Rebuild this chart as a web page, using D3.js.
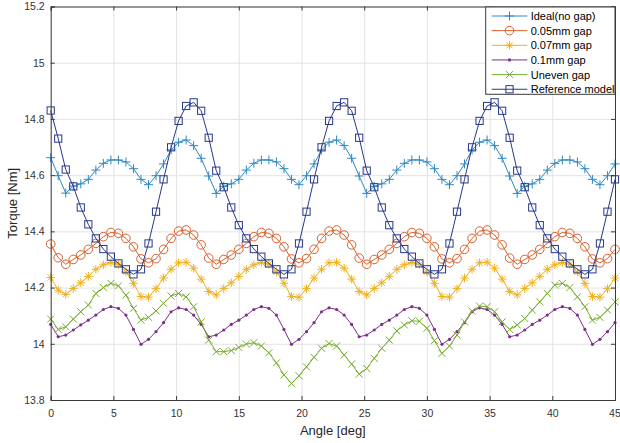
<!DOCTYPE html>
<html>
<head>
<meta charset="utf-8">
<script src="https://cdn.jsdelivr.net/npm/d3@7"></script>
<style>
  body { margin: 0; background: #fff; }
  text { font-family: "Liberation Sans", Arial, sans-serif; }
</style>
</head>
<body>
<div id="plot"></div>
<script>
// sample angles [deg]
const angles = [
  0, 0.6, 1.2, 1.8, 2.4, 3, 3.6, 4.2, 4.8, 5.4, 6, 6.6, 7.2, 7.8, 8.4, 9, 9.6, 10.2, 10.8, 11.4,
  12, 12.6, 13.2, 13.8, 14.4, 15, 15.6, 16.2, 16.8, 17.4, 18, 18.6, 19.2, 19.8, 20.4, 21, 21.6, 22.2, 22.8, 23.4,
  24, 24.6, 25.2, 25.8, 26.4, 27, 27.6, 28.2, 28.8, 29.4, 30, 30.6, 31.2, 31.8, 32.4, 33, 33.6, 34.2, 34.8, 35.4,
  36, 36.6, 37.2, 37.8, 38.4, 39, 39.6, 40.2, 40.8, 41.4, 42, 42.6, 43.2, 43.8, 44.4, 45
];

const ideal = [
  14.662, 14.598, 14.536, 14.561, 14.569, 14.585, 14.618, 14.642, 14.654, 14.654, 14.647, 14.623, 14.585, 14.566, 14.598, 14.640, 14.690, 14.717, 14.725, 14.705,
  14.660, 14.597, 14.535, 14.560, 14.569, 14.585, 14.618, 14.642, 14.654, 14.654, 14.647, 14.623, 14.585, 14.566, 14.598, 14.640, 14.690, 14.717, 14.725, 14.705,
  14.660, 14.597, 14.535, 14.560, 14.569, 14.585, 14.618, 14.642, 14.654, 14.654, 14.647, 14.623, 14.585, 14.566, 14.598, 14.640, 14.690, 14.717, 14.725, 14.705,
  14.660, 14.597, 14.535, 14.560, 14.569, 14.585, 14.618, 14.642, 14.654, 14.654, 14.647, 14.623, 14.585, 14.566, 14.598, 14.640
];

const gap005 = [
  14.355, 14.306, 14.283, 14.300, 14.316, 14.336, 14.357, 14.381, 14.396, 14.393, 14.375, 14.345, 14.302, 14.288, 14.303, 14.336, 14.375, 14.401, 14.405, 14.387,
  14.352, 14.305, 14.283, 14.300, 14.316, 14.336, 14.357, 14.381, 14.396, 14.393, 14.375, 14.345, 14.302, 14.288, 14.303, 14.336, 14.375, 14.401, 14.405, 14.387,
  14.352, 14.305, 14.283, 14.300, 14.316, 14.336, 14.357, 14.381, 14.396, 14.393, 14.375, 14.345, 14.302, 14.288, 14.303, 14.336, 14.375, 14.401, 14.405, 14.387,
  14.352, 14.305, 14.283, 14.300, 14.316, 14.336, 14.357, 14.381, 14.396, 14.393, 14.375, 14.345, 14.302, 14.288, 14.303, 14.336
];

const gap007 = [
  14.236, 14.191, 14.176, 14.197, 14.217, 14.240, 14.265, 14.281, 14.289, 14.283, 14.256, 14.215, 14.168, 14.166, 14.196, 14.234, 14.265, 14.288, 14.290, 14.269,
  14.230, 14.186, 14.174, 14.197, 14.217, 14.240, 14.265, 14.281, 14.289, 14.283, 14.256, 14.215, 14.168, 14.166, 14.196, 14.234, 14.265, 14.288, 14.290, 14.269,
  14.230, 14.186, 14.174, 14.197, 14.217, 14.240, 14.265, 14.281, 14.289, 14.283, 14.256, 14.215, 14.168, 14.166, 14.196, 14.234, 14.265, 14.288, 14.290, 14.269,
  14.230, 14.186, 14.174, 14.197, 14.217, 14.240, 14.265, 14.281, 14.289, 14.283, 14.256, 14.215, 14.168, 14.166, 14.196, 14.234
];

const gap01 = [
  14.069, 14.025, 14.031, 14.049, 14.067, 14.084, 14.102, 14.122, 14.132, 14.126, 14.102, 14.051, 13.998, 14.016, 14.043, 14.075, 14.114, 14.128, 14.122, 14.102,
  14.069, 14.025, 14.031, 14.049, 14.069, 14.084, 14.102, 14.122, 14.132, 14.126, 14.102, 14.051, 13.998, 14.016, 14.043, 14.075, 14.114, 14.128, 14.122, 14.102,
  14.069, 14.025, 14.031, 14.049, 14.069, 14.084, 14.102, 14.122, 14.132, 14.126, 14.102, 14.051, 13.998, 14.016, 14.043, 14.075, 14.114, 14.128, 14.122, 14.102,
  14.069, 14.025, 14.031, 14.049, 14.069, 14.084, 14.102, 14.122, 14.132, 14.126, 14.102, 14.051, 13.998, 14.016, 14.043, 14.075
];

const uneven = [
  14.088, 14.051, 14.060, 14.088, 14.114, 14.138, 14.179, 14.200, 14.215, 14.206,
  14.173, 14.126, 14.084, 14.094, 14.117, 14.144, 14.170, 14.179, 14.167, 14.132,
  14.078, 14.013, 13.972, 13.972, 13.976, 13.987, 13.999, 14.004, 13.992, 13.968,
  13.932, 13.889, 13.859, 13.886, 13.918, 13.952, 13.984, 14.001, 13.992, 13.960,
  13.928, 13.892, 13.912, 13.948, 13.984, 14.013, 14.046, 14.067, 14.082, 14.080,
  14.055, 14.011, 13.966, 13.992, 14.031, 14.078, 14.116, 14.134, 14.132, 14.114,
  14.078, 14.051, 14.067, 14.090, 14.120, 14.149, 14.179, 14.209, 14.215, 14.200,
  14.167, 14.132, 14.084, 14.094, 14.120, 14.149
];

const reference = [
  14.830, 14.730, 14.620, 14.560, 14.485, 14.425, 14.375, 14.337, 14.310, 14.286, 14.265, 14.247, 14.265, 14.357, 14.470, 14.585, 14.699, 14.793, 14.846, 14.859,
  14.829, 14.733, 14.616, 14.557, 14.485, 14.422, 14.375, 14.337, 14.310, 14.286, 14.265, 14.247, 14.265, 14.357, 14.470, 14.585, 14.699, 14.793, 14.846, 14.859,
  14.829, 14.733, 14.616, 14.557, 14.485, 14.422, 14.375, 14.337, 14.310, 14.286, 14.265, 14.247, 14.265, 14.357, 14.470, 14.585, 14.699, 14.793, 14.846, 14.859,
  14.829, 14.733, 14.616, 14.557, 14.485, 14.422, 14.375, 14.337, 14.310, 14.286, 14.265, 14.247, 14.265, 14.357, 14.470, 14.585
];

const seriesNames = ["Ideal(no gap)", "0.05mm gap", "0.07mm gap", "0.1mm gap", "Uneven gap", "Reference model"];
const xTicks = [0, 5, 10, 15, 20, 25, 30, 35, 40, 45];
const yTicks = [13.8, 14, 14.2, 14.4, 14.6, 14.8, 15, 15.2];
const yTickLabels = ["13.8", "14", "14.2", "14.4", "14.6", "14.8", "15", "15.2"];

const margin = { top: 6.5, right: 5, bottom: 43, left: 50.7 };
const svgWidth = 620, svgHeight = 443;
const width = svgWidth - margin.left - margin.right;
const height = svgHeight - margin.top - margin.bottom;

const svg = d3.select("#plot").append("svg")
  .attr("width", svgWidth)
  .attr("height", svgHeight);
const g = svg.append("g")
  .attr("transform", "translate(" + margin.left + "," + margin.top + ")");

const xScale = d3.scaleLinear().domain([0, 45]).range([0, width]);
const yScale = d3.scaleLinear().domain([13.8, 15.2]).range([height, 0]);

// grid
g.append("g")
  .attr("class", "grid")
  .attr("transform", "translate(0," + height + ")")
  .call(d3.axisBottom(xScale).tickValues(xTicks).tickSize(-height).tickFormat(""));
g.append("g")
  .attr("class", "grid")
  .call(d3.axisLeft(yScale).tickValues(yTicks).tickSize(-width).tickFormat(""));
g.selectAll(".grid .domain").remove();
g.selectAll(".grid line").attr("stroke", "#e3e3e3").attr("stroke-width", 1);

const styles = [
  { color: "#2f88c2", marker: "plus" },
  { color: "#d9602a", marker: "circle" },
  { color: "#edb120", marker: "star" },
  { color: "#7e2f8e", marker: "dot" },
  { color: "#77ac30", marker: "cross" },
  { color: "#26388a", marker: "square" }
];
const allSeries = [ideal, gap005, gap007, gap01, uneven, reference];

function drawMarker(sel, type, color) {
  if (type === "circle") {
    sel.append("circle").attr("r", 4.3).attr("fill", "none").attr("stroke", color).attr("stroke-width", 1);
  } else if (type === "square") {
    sel.append("rect").attr("x", -3.6).attr("y", -3.6).attr("width", 7.2).attr("height", 7.2)
      .attr("fill", "none").attr("stroke", color).attr("stroke-width", 1);
  } else if (type === "dot") {
    sel.append("circle").attr("r", 1.6).attr("fill", color);
  } else {
    let d = "";
    if (type === "plus") d = "M-4.5,0H4.5M0,-4.5V4.5";
    if (type === "cross") d = "M-3.5,-3.5L3.5,3.5M-3.5,3.5L3.5,-3.5";
    if (type === "star") d = "M-4.3,0H4.3M0,-4.3V4.3M-3,-3L3,3M-3,3L3,-3";
    sel.append("path").attr("d", d).attr("fill", "none").attr("stroke", color).attr("stroke-width", 1);
  }
}

const line = d3.line()
  .x(d => xScale(d[0]))
  .y(d => yScale(d[1]));

allSeries.forEach((values, k) => {
  const pts = angles.map((a, i) => [a, values[i]]);
  const st = styles[k];
  const sg = g.append("g").attr("class", "series");
  sg.append("path")
    .datum(pts)
    .attr("fill", "none")
    .attr("stroke", st.color)
    .attr("stroke-width", 1)
    .attr("stroke-linejoin", "round")
    .attr("d", line);
  sg.selectAll("g.mk")
    .data(pts)
    .enter().append("g")
    .attr("class", "mk")
    .attr("transform", d => "translate(" + xScale(d[0]) + "," + yScale(d[1]) + ")")
    .each(function() { drawMarker(d3.select(this), st.marker, st.color); });
});

// axes box, ticks inside
const axisColor = "#3a3a3a";
const xAxis = g.append("g")
  .attr("transform", "translate(0," + height + ")")
  .call(d3.axisBottom(xScale).tickValues(xTicks).tickSize(-4).tickPadding(10).tickFormat(d3.format("d")));
const yAxis = g.append("g")
  .call(d3.axisLeft(yScale).tickValues(yTicks).tickSize(-4).tickPadding(6)
    .tickFormat((d, i) => yTickLabels[i]));
const topAxis = g.append("g")
  .call(d3.axisTop(xScale).tickValues(xTicks).tickSize(-4).tickFormat(""));
const rightAxis = g.append("g")
  .attr("transform", "translate(" + width + ",0)")
  .call(d3.axisRight(yScale).tickValues(yTicks).tickSize(-4).tickFormat(""));

[xAxis, yAxis, topAxis, rightAxis].forEach(a => {
  a.select(".domain").attr("stroke", axisColor);
  a.selectAll(".tick line").attr("stroke", axisColor);
  a.selectAll("text")
    .attr("fill", "#333")
    .style("font-size", "10.5px")
    .style("font-family", "'Liberation Sans', Arial, sans-serif");
});
// keep the last x label inside the window
xAxis.selectAll(".tick text").filter(d => d === 45).attr("dx", "-0.6px");

g.append("text")
  .attr("x", width / 2)
  .attr("y", 435 - margin.top)
  .attr("text-anchor", "middle")
  .attr("fill", "#262626")
  .style("font-size", "13px")
  .text("Angle [deg]");

g.append("text")
  .attr("transform", "rotate(-90)")
  .attr("x", -height / 2)
  .attr("y", 16.5 - margin.left)
  .attr("text-anchor", "middle")
  .attr("fill", "#262626")
  .style("font-size", "13px")
  .text("Torque [Nm]");

// legend
const legend = svg.append("g").attr("transform", "translate(485.7,7)");
legend.append("rect")
  .attr("width", 129.3)
  .attr("height", 87.3)
  .attr("fill", "#fff")
  .attr("stroke", axisColor)
  .attr("stroke-width", 1);
seriesNames.forEach((name, k) => {
  const row = legend.append("g").attr("transform", "translate(0," + (9 + k * 14.65) + ")");
  row.append("line")
    .attr("x1", 6).attr("x2", 41.6)
    .attr("stroke", styles[k].color).attr("stroke-width", 1);
  drawMarker(row.append("g").attr("transform", "translate(23.8,0)"), styles[k].marker, styles[k].color);
  row.append("text")
    .attr("x", 45)
    .attr("dy", "0.36em")
    .attr("fill", "#000")
    .style("font-size", "11px")
    .text(name);
});
</script>
</body>
</html>
